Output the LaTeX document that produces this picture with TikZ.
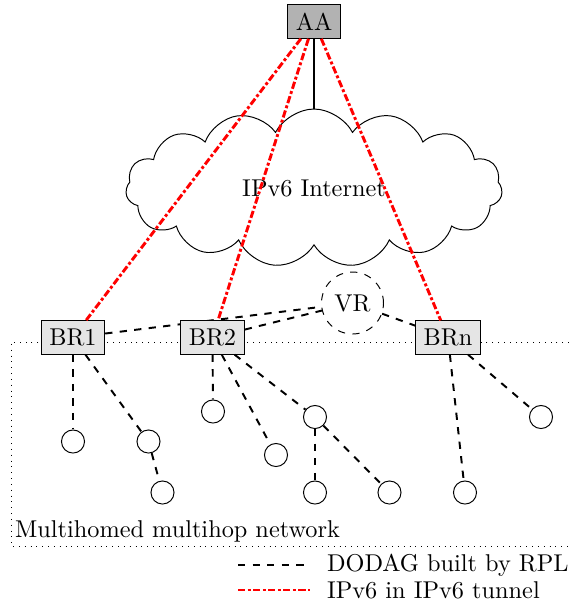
\documentclass[tikz,border=0pt]{standalone}
\usetikzlibrary{positioning,shapes.symbols,backgrounds}

\begin{document}
\begin{tikzpicture}[x=0.4115pt,y=-0.4115pt,
root/.style={draw,fill=gray!60},
router/.style={draw,fill=gray!20},
virt/.style={draw,circle,dashed},
leaf/.style={draw,circle,minimum size=9.5pt,inner sep=0pt},
net/.style={draw,cloud,cloud puffs=15,cloud puff arc=125,aspect=2.4,minimum width=155pt,minimum height=65pt},
dodag/.style={thick,dashed},
tunnel/.style={very thick,red,densely dash dot}]
\useasboundingbox (0,0) rectangle (569,603);
% multihop network area
\draw[dotted] (569,342) -| (11,546) -- (569,546);
\node[anchor=south west,inner sep=1.5pt] (area) at (11,546) {Multihomed multihop network};
% routers
\node[root] (aa) at (314,21.5) {AA};
\node[net] (inet) at (314,188) {IPv6 Internet};
\node[router] (br1) at (73,337.5) {BR1};
\node[router] (br2) at (212.5,337.5) {BR2};
\node[router] (brn) at (448,337.5) {BRn};
\node[virt] (vr) at (352.5,303) {VR};
% nodes of the DODAG
\node[leaf] (l1) at (73,441.5) {};
\node[leaf] (l2) at (148.5,441.5) {};
\node[leaf] (l3) at (162.5,492.5) {};
\node[leaf] (l4) at (213,411.5) {};
\node[leaf] (l5) at (276,455) {};
\node[leaf] (l6) at (315,417) {};
\node[leaf] (l7) at (315,492.5) {};
\node[leaf] (l8) at (389.5,492.5) {};
\node[leaf] (l9) at (465,492.5) {};
\node[leaf] (l10) at (541,417) {};
\draw[thick] (aa)--(inet);
\draw[tunnel] (aa)--(br1);
\draw[tunnel] (aa)--(br2);
\draw[tunnel] (aa)--(brn);
\begin{scope}[on background layer]
\draw[dodag] (br1)--(vr);
\draw[dodag] (br2)--(vr);
\draw[dodag] (vr)--(brn);
\end{scope}
\draw[dodag] (br1)--(l1);
\draw[dodag] (br1)--(l2);
\draw[dodag] (l2)--(l3);
\draw[dodag] (br2)--(l4);
\draw[dodag] (br2)--(l5);
\draw[dodag] (br2)--(l6);
\draw[dodag] (l6)--(l7);
\draw[dodag] (l6)--(l8);
\draw[dodag] (brn)--(l9);
\draw[dodag] (brn)--(l10);
% legend
\coordinate (k1) at (238,565);
\coordinate (k2) at (310,565);
\coordinate (k3) at (238,590);
\coordinate (k4) at (310,590);
\draw[dodag] (k1)--(k2);
\draw[tunnel] (k3)--(k4);
\node[right=3.5pt of k2] (dodagtxt) {DODAG built by RPL};
\node[right=3.5pt of k4] (tunneltxt) {IPv6 in IPv6 tunnel};
\end{tikzpicture}
\end{document}
